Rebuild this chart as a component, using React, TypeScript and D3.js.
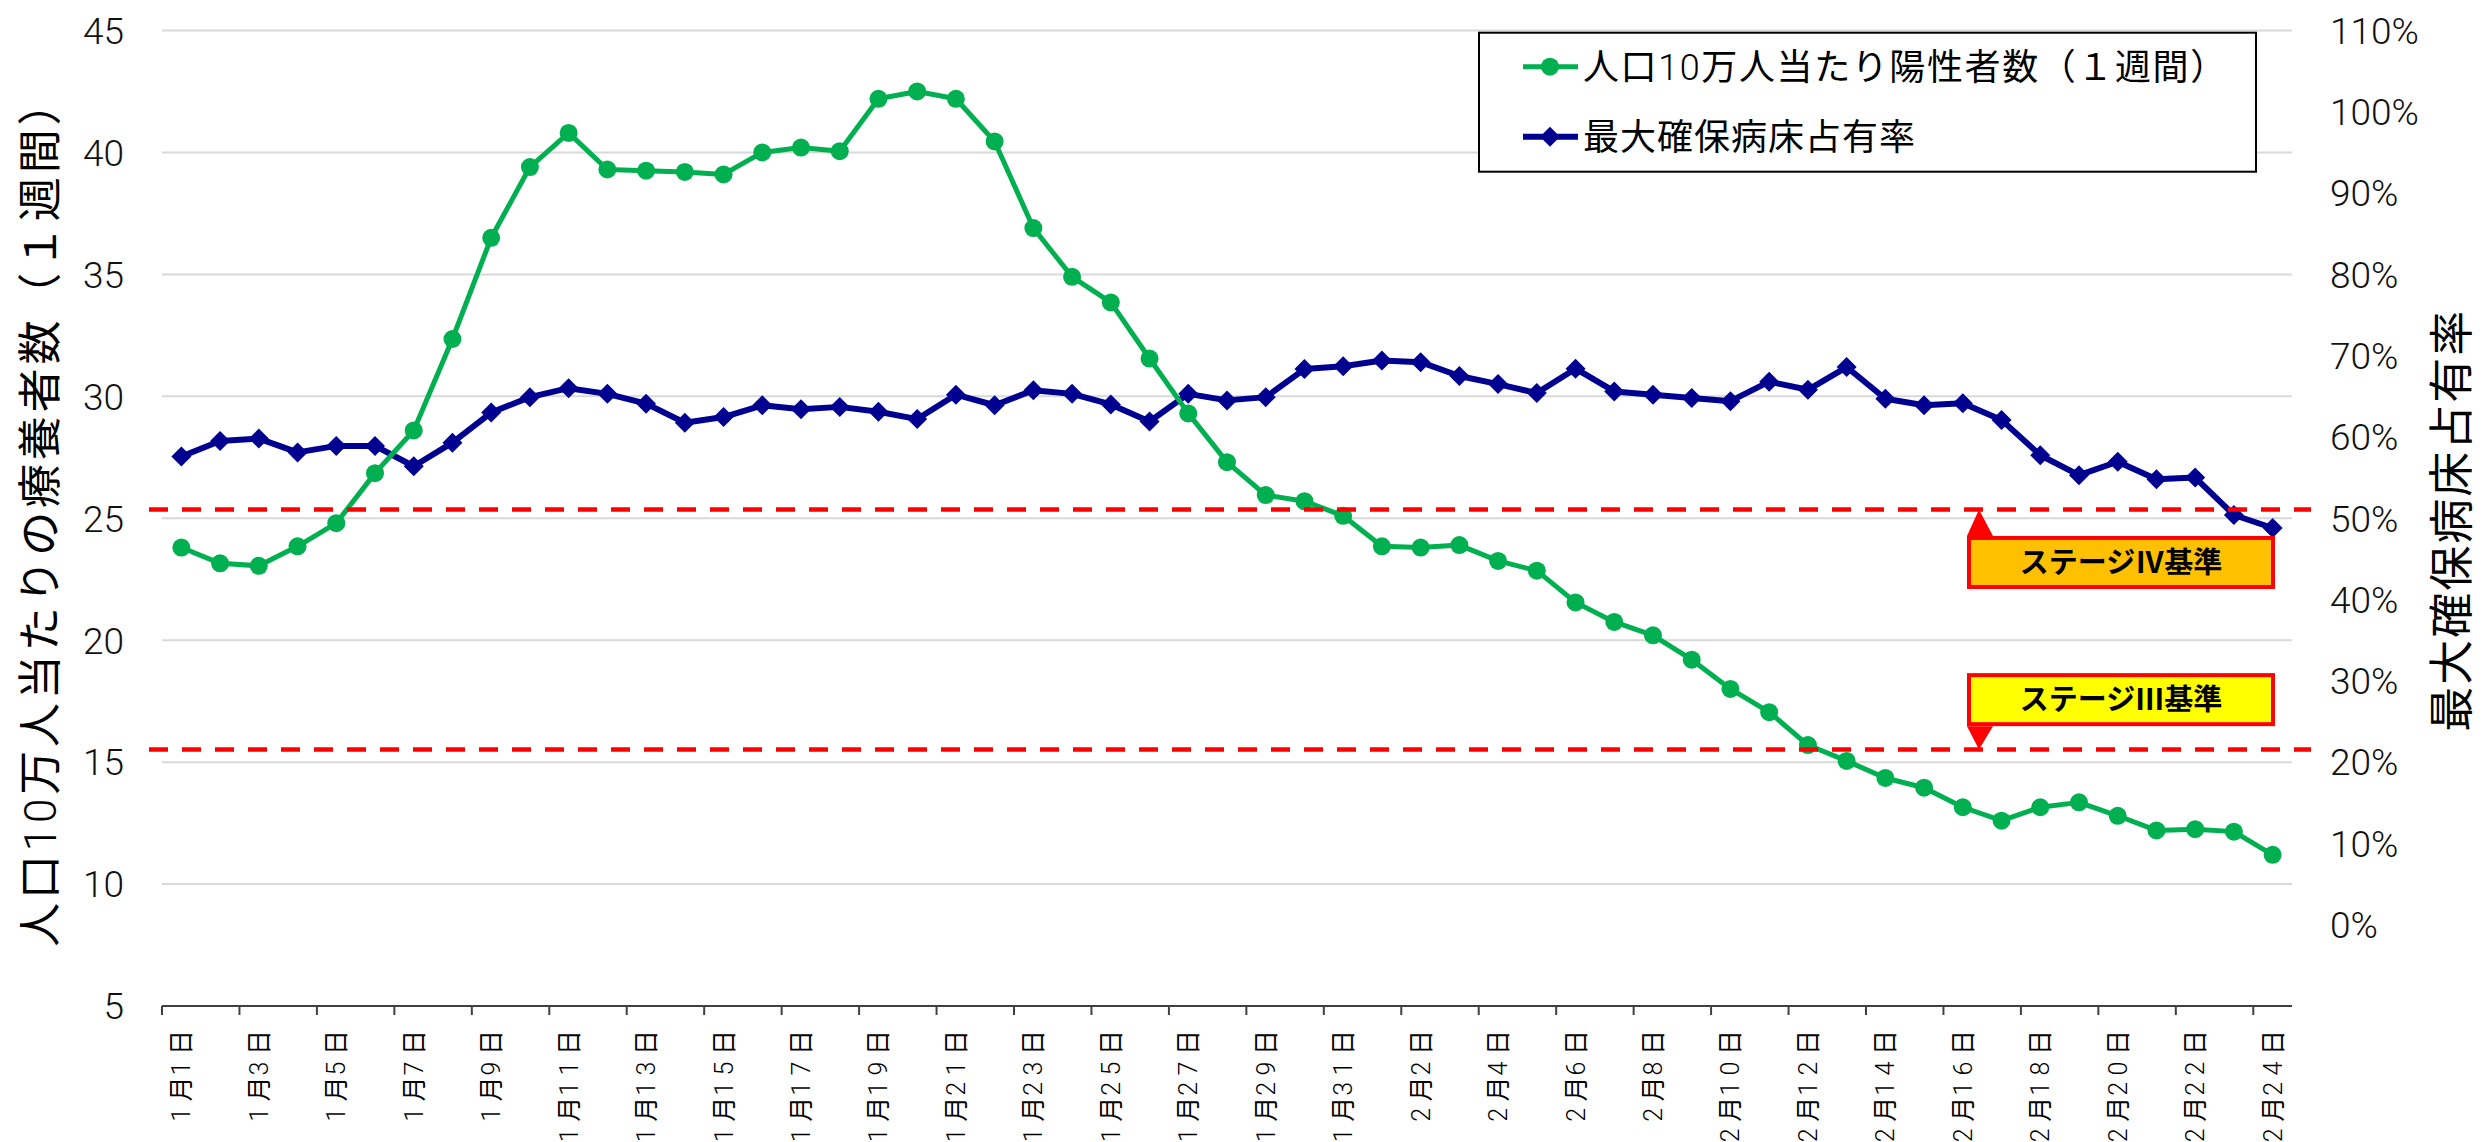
import React from "react";
import * as d3 from "d3";

// ---------- data ----------
const categories: string[] = [
  "1月1日", "1月2日", "1月3日", "1月4日", "1月5日", "1月6日", "1月7日", "1月8日", "1月9日", "1月10日",
  "1月11日", "1月12日", "1月13日", "1月14日", "1月15日", "1月16日", "1月17日", "1月18日", "1月19日", "1月20日",
  "1月21日", "1月22日", "1月23日", "1月24日", "1月25日", "1月26日", "1月27日", "1月28日", "1月29日", "1月30日",
  "1月31日",
  "2月1日", "2月2日", "2月3日", "2月4日", "2月5日", "2月6日", "2月7日", "2月8日", "2月9日", "2月10日",
  "2月11日", "2月12日", "2月13日", "2月14日", "2月15日", "2月16日", "2月17日", "2月18日", "2月19日", "2月20日",
  "2月21日", "2月22日", "2月23日", "2月24日",
];

// 人口10万人当たり陽性者数（１週間） — left axis
const positivePer100k: number[] = [
  23.8, 23.15, 23.05, 23.85, 24.8, 26.85, 28.6, 32.35, 36.5, 39.4,
  40.8, 39.3, 39.25, 39.2, 39.1, 40.0, 40.2, 40.05, 42.2, 42.5,
  42.2, 40.45, 36.9, 34.9, 33.85, 31.55, 29.3, 27.3, 25.95, 25.7,
  25.1,
  23.85, 23.8, 23.9, 23.25, 22.85, 21.55, 20.75, 20.2, 19.2, 18.0,
  17.05, 15.7, 15.05, 14.35, 13.95, 13.15, 12.6, 13.15, 13.35, 12.8,
  12.2, 12.25, 12.15, 11.2,
];

// 最大確保病床占有率 (%) — right axis
const bedOccupancy: number[] = [
  57.6, 59.5, 59.8, 58.1, 58.9, 58.9, 56.4, 59.3, 63.0, 64.9,
  66.0, 65.3, 64.1, 61.75, 62.45, 63.9, 63.4, 63.7, 63.1, 62.2,
  65.2, 63.9, 65.75, 65.3, 64.0, 61.9, 65.3, 64.5, 64.9, 68.35,
  68.7,
  69.4, 69.2, 67.5, 66.5, 65.4, 68.4, 65.6, 65.2, 64.8, 64.4,
  66.8, 65.8, 68.6, 64.7, 63.9, 64.15, 62.1, 57.75, 55.3, 56.95,
  54.8, 55.0, 50.4, 48.8,
];

const leftTicks: number[] = [5, 10, 15, 20, 25, 30, 35, 40, 45];
const rightTicks: number[] = [0, 10, 20, 30, 40, 50, 60, 70, 80, 90, 100, 110];

const seriesNames: string[] = ["人口10万人当たり陽性者数（１週間）", "最大確保病床占有率"];
const leftTitle = "人口10万人当たりの療養者数（１週間）";
const rightTitle = "最大確保病床占有率";

// threshold reference lines (left-axis units) and their callouts
const thresholdValues: number[] = [25.36, 15.52];
const thresholdLabels: string[] = ["ステージⅣ基準", "ステージⅢ基準"];

// ---------- layout ----------
const W = 2486;
const H = 1142;
const plot = { left: 162, right: 2292, top: 30.5, bottom: 1006 };
const GREEN = "#00B050";
const BLUE = "#000090";
const CJK = '"Noto Sans CJK JP", "Noto Sans CJK SC", "Noto Sans", sans-serif';
const LATIN = 'Roboto, "Noto Sans", "DejaVu Sans", sans-serif';

function Mixed({
  text,
  digitWeight = 300,
  digitSpacing,
  cjkSpacing,
}: {
  text: string;
  digitWeight?: number;
  digitSpacing?: number;
  cjkSpacing?: number;
}) {
  const parts = text.split(/(\d+)/).filter((p) => p.length > 0);
  return (
    <>
      {parts.map((p, i) =>
        /^\d+$/.test(p) ? (
          <tspan
            key={i}
            fontFamily={LATIN}
            fontWeight={digitWeight}
            style={digitSpacing !== undefined ? { letterSpacing: digitSpacing + "px" } : undefined}
          >
            {p}
          </tspan>
        ) : (
          <tspan
            key={i}
            fontFamily={CJK}
            style={cjkSpacing !== undefined ? { letterSpacing: cjkSpacing + "px" } : undefined}
          >
            {p}
          </tspan>
        )
      )}
    </>
  );
}

export default function App() {
  const x = d3
    .scaleBand<string>()
    .domain(categories)
    .range([plot.left, plot.right])
    .paddingInner(0)
    .paddingOuter(0);
  const cx = (c: string) => (x(c) as number) + x.bandwidth() / 2;
  const yL = d3.scaleLinear().domain([5, 45]).range([plot.bottom, plot.top]);
  const yR = d3.scaleLinear().domain([-10, 110]).range([plot.bottom, plot.top]);

  const greenLine = d3
    .line<number>()
    .x((_, i) => cx(categories[i]))
    .y((d) => yL(d))(positivePer100k) as string;
  const blueLine = d3
    .line<number>()
    .x((_, i) => cx(categories[i]))
    .y((d) => yR(d))(bedOccupancy) as string;

  const diamond = "M0,-10L10,0L0,10L-10,0Z";

  // callout geometry
  const boxX0 = 1967;
  const boxX1 = 2275;
  const boxH = 53;
  const apexX = 1979;
  const baseX1 = 1993;

  return (
    <svg
      width={W}
      height={H}
      viewBox={`0 0 ${W} ${H}`}
      style={{ position: "absolute", left: 0, top: 0, background: "#fff" }}
    >
      <rect x={0} y={0} width={W} height={H} fill="#fff" />

      {/* gridlines */}
      {leftTicks
        .filter((t) => t !== 5)
        .map((t) => (
          <line
            key={"g" + t}
            x1={plot.left}
            x2={plot.right}
            y1={yL(t)}
            y2={yL(t)}
            stroke="#D9D9D9"
            strokeWidth={2}
          />
        ))}

      {/* left tick labels */}
      {leftTicks.map((t) => (
        <text
          key={"l" + t}
          x={plot.left - 38}
          y={yL(t)}
          dy="0.36em"
          textAnchor="end"
          fontFamily={LATIN}
          fontWeight={300}
          fontSize={37}
          fill="#111"
        >
          {t}
        </text>
      ))}

      {/* right tick labels */}
      {rightTicks.map((t) => (
        <text
          key={"r" + t}
          x={plot.right + 38}
          y={yR(t)}
          dy="0.36em"
          textAnchor="start"
          fontFamily={LATIN}
          fontWeight={300}
          fontSize={37}
          fill="#111"
        >
          {t + "%"}
        </text>
      ))}

      {/* x axis */}
      <line x1={plot.left} x2={plot.right} y1={plot.bottom} y2={plot.bottom} stroke="#404040" strokeWidth={2} />
      {categories.map((c, i) =>
        i % 2 === 0 ? (
          <g key={"t" + c}>
            <line
              x1={x(c) as number}
              x2={x(c) as number}
              y1={plot.bottom}
              y2={plot.bottom + 9}
              stroke="#404040"
              strokeWidth={2}
            />
            <text
              transform={`translate(${cx(c)},${plot.bottom + 23}) rotate(-90)`}
              textAnchor="end"
              dy="0.36em"
              fontSize={25}
              fill="#000"
            >
              <Mixed text={c} digitSpacing={6.5} cjkSpacing={1} />
            </text>
          </g>
        ) : null
      )}

      {/* axis titles */}
      <text
        transform={`translate(40,${(plot.top + plot.bottom) / 2 - 6}) rotate(-90)`}
        textAnchor="middle"
        dy="0.36em"
        fontSize={44}
        fill="#000"
        style={{ letterSpacing: "3.8px" }}
      >
        <Mixed text={leftTitle} />
      </text>
      <text
        transform={`translate(2452,${(plot.top + plot.bottom) / 2 + 2}) rotate(-90)`}
        textAnchor="middle"
        dy="0.36em"
        fontSize={45}
        fontFamily={CJK}
        fill="#000"
        style={{ letterSpacing: "2px" }}
      >
        {rightTitle}
      </text>

      {/* series: blue then green */}
      <path d={blueLine} fill="none" stroke={BLUE} strokeWidth={6} strokeLinejoin="round" />
      {bedOccupancy.map((v, i) => (
        <path key={"b" + i} d={diamond} transform={`translate(${cx(categories[i])},${yR(v)})`} fill={BLUE} />
      ))}
      <path d={greenLine} fill="none" stroke={GREEN} strokeWidth={5} strokeLinejoin="round" />
      {positivePer100k.map((v, i) => (
        <circle key={"c" + i} cx={cx(categories[i])} cy={yL(v)} r={9} fill={GREEN} />
      ))}

      {/* threshold lines */}
      {thresholdValues.map((v) => (
        <line
          key={"th" + v}
          x1={plot.left - 13}
          x2={plot.right + 19}
          y1={yL(v)}
          y2={yL(v)}
          stroke="#FF0000"
          strokeWidth={4.5}
          strokeDasharray="19 14"
        />
      ))}

      {/* callouts */}
      {thresholdValues.map((v, i) => {
        const ly = yL(v);
        const above = i === 1; // stage III box sits above its line
        const top = above ? ly - 23.3 - boxH : ly + 26.5;
        const baseY = above ? top + boxH : top;
        return (
          <g key={"co" + i}>
            <polygon points={`${boxX0},${baseY} ${apexX},${ly} ${baseX1},${baseY}`} fill="#FF0000" />
            <rect
              x={boxX0 + 2}
              y={top + 2}
              width={boxX1 - boxX0 - 4}
              height={boxH - 4}
              fill={i === 0 ? "#FFC000" : "#FFFF00"}
              stroke="#FF0000"
              strokeWidth={4}
            />
            <text
              x={(boxX0 + boxX1) / 2}
              y={top + boxH / 2}
              dy="0.36em"
              textAnchor="middle"
              fontFamily={CJK}
              fontWeight={700}
              fontSize={29}
              fill="#000"
            >
              {thresholdLabels[i]}
            </text>
          </g>
        );
      })}

      {/* legend */}
      <rect x={1479} y={32.7} width={777} height={139} fill="#fff" stroke="#000" strokeWidth={2} />
      <g>
        <line x1={1523} x2={1578} y1={66.7} y2={66.7} stroke={GREEN} strokeWidth={5} />
        <circle cx={1550} cy={66.7} r={9} fill={GREEN} />
        <text x={1583} y={66.7} dy="0.36em" fontSize={36} fill="#000" style={{ letterSpacing: "1.6px" }}>
          <Mixed text={seriesNames[0]} />
        </text>
        <line x1={1523} x2={1578} y1={136.7} y2={136.7} stroke={BLUE} strokeWidth={6} />
        <path d={diamond} transform={`translate(1550,136.7)`} fill={BLUE} />
        <text
          x={1583}
          y={136.7}
          dy="0.36em"
          fontSize={36}
          fontFamily={CJK}
          fill="#000"
          style={{ letterSpacing: "1px" }}
        >
          {seriesNames[1]}
        </text>
      </g>
    </svg>
  );
}
